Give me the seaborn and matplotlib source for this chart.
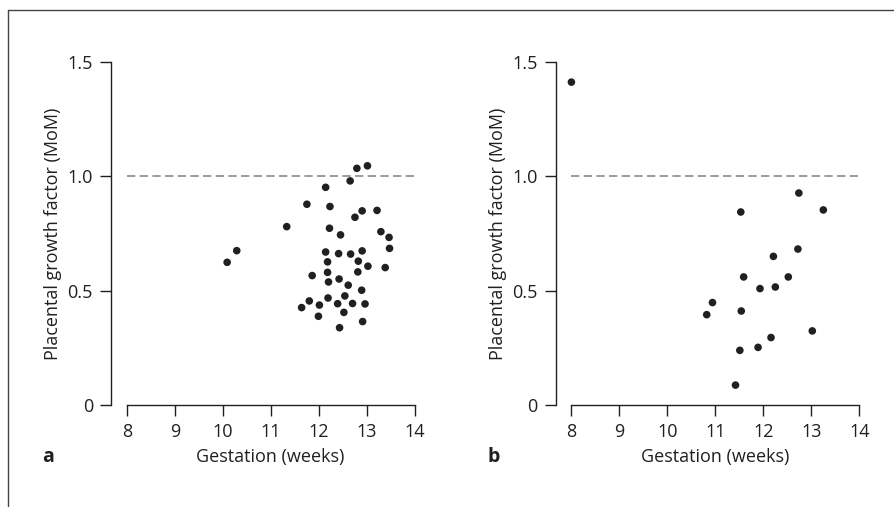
import pandas as pd
import matplotlib
matplotlib.use("Agg")
import matplotlib.pyplot as plt
import seaborn as sns

sns.set_style("ticks")
plt.rcParams['font.family'] = ['Open Sans', 'DejaVu Sans']

# panel a
a_weeks = [12.79, 13.01, 12.65, 12.14, 11.75, 12.23, 12.90, 13.21, 12.75, 11.33,
           12.22, 12.45, 13.29, 13.46, 13.47, 10.29, 10.09, 12.14, 12.41, 12.66,
           12.90, 12.18, 12.82, 13.02, 13.38, 11.86, 12.18, 12.81, 12.20, 12.42,
           12.61, 12.89, 12.19, 12.54, 11.80, 11.64, 12.01, 12.39, 12.70, 12.96,
           11.99, 12.52, 12.91, 12.43]
a_mom = [1.035, 1.046, 0.980, 0.952, 0.878, 0.868, 0.849, 0.851, 0.821, 0.780,
         0.773, 0.744, 0.758, 0.733, 0.685, 0.675, 0.624, 0.669, 0.662, 0.660,
         0.674, 0.626, 0.629, 0.607, 0.601, 0.566, 0.580, 0.582, 0.538, 0.551,
         0.524, 0.502, 0.468, 0.477, 0.455, 0.426, 0.437, 0.443, 0.444, 0.442,
         0.388, 0.405, 0.365, 0.338]

# panel b
b_weeks = [8.00, 12.74, 13.25, 11.53, 12.72, 12.21, 11.59, 12.52, 11.93, 12.25,
           10.94, 10.82, 11.54, 13.02, 12.16, 11.89, 11.51, 11.42]
b_mom = [1.412, 0.927, 0.853, 0.844, 0.682, 0.650, 0.560, 0.560, 0.509, 0.516,
         0.448, 0.395, 0.411, 0.324, 0.295, 0.252, 0.239, 0.087]

x_ticks = [8, 9, 10, 11, 12, 13, 14]
y_ticks = [0, 0.5, 1.0, 1.5]
y_ticklabels = ["0", "0.5", "1.0", "1.5"]

ink = "#231f20"
fs = 13

fig = plt.figure(figsize=(8.94, 5.07), dpi=100)

panels = [
    ("a", a_weeks, a_mom, [0.1242, 0.2012, 0.340, 0.6765], 48),
    ("b", b_weeks, b_mom, [0.6216, 0.2012, 0.3396, 0.6765], 494),
]

for letter, wk, mom, pos, lx in panels:
    ax = fig.add_axes(pos)
    df = pd.DataFrame({"weeks": wk, "mom": mom})
    ax.plot([8, 14], [1.0, 1.0], color="#8a8a8a", lw=1.2, dashes=(5, 2.6), zorder=1)
    sns.scatterplot(data=df, x="weeks", y="mom", ax=ax, color=ink, s=30,
                    edgecolor="none", clip_on=False, zorder=3)
    ax.set_xlim(7.673, 14)
    ax.set_ylim(0, 1.5)
    ax.set_xticks(x_ticks)
    ax.set_yticks(y_ticks)
    ax.set_yticklabels(y_ticklabels)
    ax.spines["top"].set_visible(False)
    ax.spines["right"].set_visible(False)
    ax.spines["bottom"].set_bounds(8, 14)
    for sp in ("left", "bottom"):
        ax.spines[sp].set_color(ink)
        ax.spines[sp].set_linewidth(1.0)
    ax.tick_params(axis="both", length=8, width=1.0, color=ink, labelcolor=ink,
                   labelsize=fs, pad=5)
    ax.set_xlabel("Gestation (weeks)", fontsize=fs, color=ink)
    ax.set_ylabel("Placental growth factor (MoM)", fontsize=fs, color=ink)
    ax.xaxis.set_label_coords(0.525, -0.152)
    ax.xaxis.label.set_va("center")
    ax.yaxis.set_label_coords(-0.19, 0.5)
    ax.yaxis.label.set_va("center")
    fig.text(lx / 894, 1 - 457 / 507, letter, fontsize=fs + 1, fontweight="bold",
             color=ink, ha="center", va="center")

# frame lines of the figure box
fig.add_artist(plt.Line2D([8 / 894, 1.0], [1 - 10 / 507, 1 - 10 / 507], color="#444444", lw=1.0))
fig.add_artist(plt.Line2D([8 / 894, 8 / 894], [1 - 10 / 507, 0.0], color="#444444", lw=1.0))

fig.savefig("out.png", dpi=100)
